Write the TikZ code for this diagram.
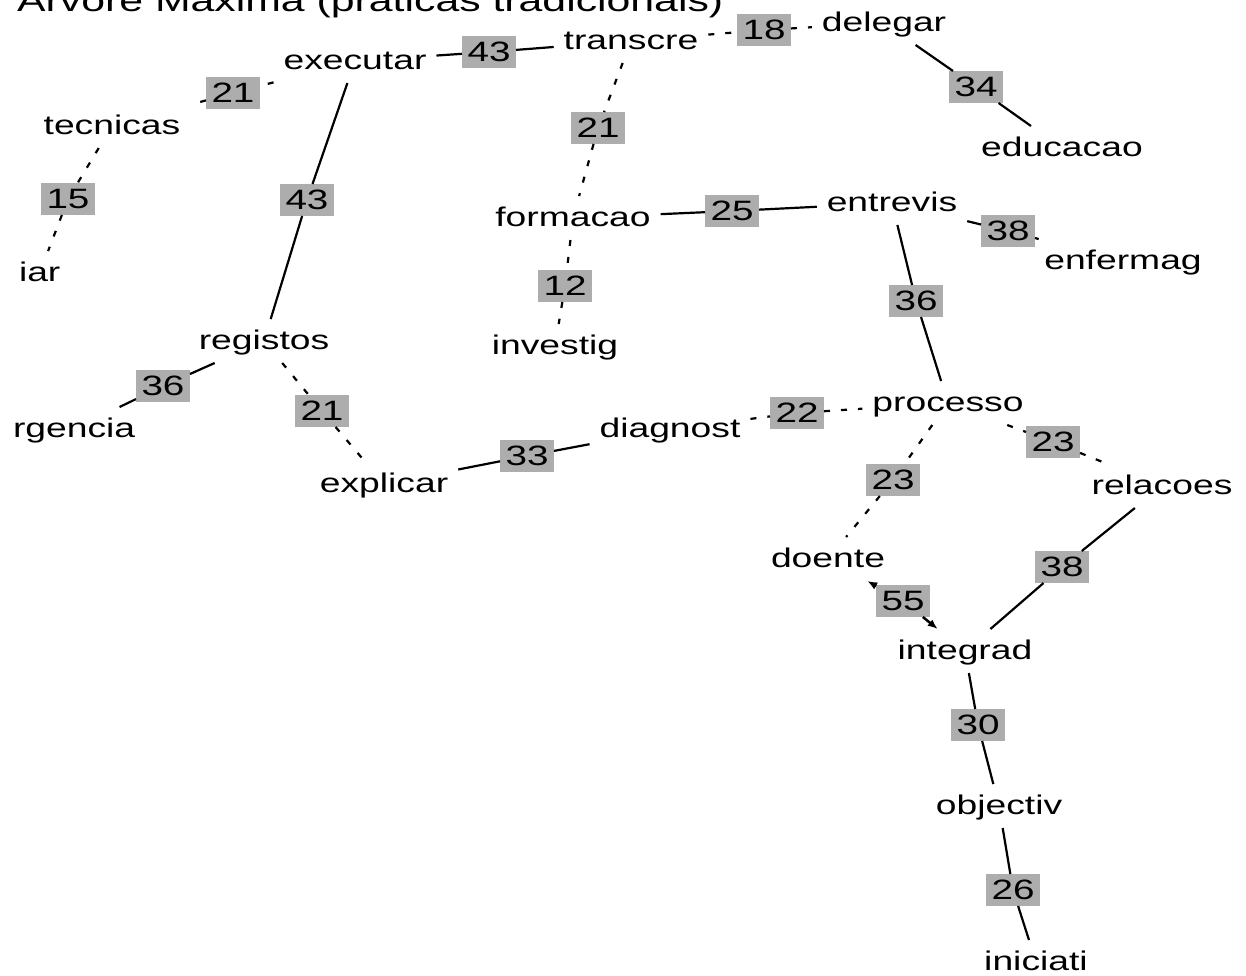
\documentclass[tikz,border=0pt]{standalone}
\usepackage{fontspec}
\setmainfont{Liberation Sans}[FakeStretch=1.38]
\usetikzlibrary{arrows.meta}
\newcommand\wordfont{\fontsize{27}{32}\selectfont}
\newcommand\weightfont{\fontsize{28}{32}\selectfont}
\newcommand\titlefont{\fontsize{31}{36}\selectfont}
\begin{document}
\begin{tikzpicture}[x=1pt,y=-1pt,
  word/.style={font=\wordfont, inner sep=3pt, outer sep=7pt,
    text height=20pt, text depth=4pt, anchor=base},
  weight/.style={fill=black!32, font=\weightfont, minimum width=54pt,
    minimum height=32pt, inner sep=0pt, outer sep=0pt},
  link/.style={line width=2.2pt},
  dlink/.style={line width=2.2pt, dash pattern=on 6pt off 11pt},
  both/.style={line width=2.5pt, -{Latex[length=10pt,width=8pt]}}]
\useasboundingbox (0,0) rectangle (1246,975);
\clip (0,0) rectangle (1246,975);
\fill[white] (0,0) rectangle (1246,975);

% title
\node[anchor=base west, font=\titlefont, inner sep=0pt] (title) at (17,11)
  {Arvore Maxima (praticas tradicionais)};

% terms (placed by baseline)
\node[word] (executar) at (355,69) {executar};
\node[word] (transcre) at (631,49) {transcre};
\node[word] (delegar)  at (884,31) {delegar};
\node[word] (educacao) at (1062,156) {educacao};
\node[word] (tecnicas) at (112,134) {tecnicas};
\node[word, anchor=base west] (iar) at (9,281) {iar};
\node[word] (formacao) at (573,226) {formacao};
\node[word] (entrevis) at (892,211) {entrevis};
\node[word] (enfermag) at (1123,269) {enfermag};
\node[word] (investig) at (555,354) {investig};
\node[word] (registos) at (264,349) {registos};
\node[word, anchor=base west] (urgencia) at (3,437) {rgencia};
\node[word] (explicar) at (384,492) {explicar};
\node[word] (diagnost) at (670,437) {diagnost};
\node[word] (processo) at (948,411) {processo};
\node[word] (relacoes) at (1162,494) {relacoes};
\node[word] (doente)   at (828,567) {doente};
\node[word] (integrad) at (965,659) {integrad};
\node[word] (objectiv) at (999,814) {objectiv};
\node[word] (iniciati) at (1036,970) {iniciati};

% weights
\node[weight] (w1)  at (233,93)  {21};
\node[weight] (w2)  at (489,52)  {43};
\node[weight] (w3)  at (764,30)  {18};
\node[weight] (w4)  at (976,87)  {34};
\node[weight] (w5)  at (68,199)  {15};
\node[weight] (w6)  at (307,200) {43};
\node[weight] (w7)  at (598,128) {21};
\node[weight] (w8)  at (732,211) {25};
\node[weight] (w9)  at (1008,231) {38};
\node[weight] (w10) at (565,286) {12};
\node[weight] (w11) at (916,301) {36};
\node[weight] (w12) at (163,386) {36};
\node[weight] (w13) at (322,411) {21};
\node[weight] (w14) at (527,456) {33};
\node[weight] (w15) at (797,413) {22};
\node[weight] (w16) at (893,480) {23};
\node[weight] (w17) at (1053,442) {23};
\node[weight] (w18) at (1062,567) {38};
\node[weight] (w19) at (903,601) {55};
\node[weight] (w20) at (978,725) {30};
\node[weight] (w21) at (1013,890) {26};

% links
\draw[dlink] (executar) -- (w1);  \draw[dlink] (w1) -- (tecnicas);
\draw[link]  (executar) -- (w2);  \draw[link]  (w2) -- (transcre);
\draw[dlink] (transcre) -- (w3);  \draw[dlink] (w3) -- (delegar);
\draw[link]  (delegar) -- (w4);   \draw[link]  (w4) -- (educacao);
\draw[dlink] (tecnicas) -- (w5);  \draw[dlink] (w5) -- (iar);
\draw[link]  (executar) -- (w6);  \draw[link]  (w6) -- (registos);
\draw[dlink] (transcre) -- (w7);  \draw[dlink] (w7) -- (formacao);
\draw[link]  (formacao) -- (w8);  \draw[link]  (w8) -- (entrevis);
\draw[link]  (entrevis) -- (w9);  \draw[link]  (w9) -- (enfermag);
\draw[dlink] (formacao) -- (w10); \draw[dlink] (w10) -- (investig);
\draw[link]  (entrevis) -- (w11); \draw[link]  (w11) -- (processo);
\draw[link]  (registos) -- (w12); \draw[link]  (w12) -- (urgencia);
\draw[dlink] (registos) -- (w13); \draw[dlink] (w13) -- (explicar);
\draw[link]  (explicar) -- (w14); \draw[link]  (w14) -- (diagnost);
\draw[dlink] (diagnost) -- (w15); \draw[dlink] (w15) -- (processo);
\draw[dlink] (processo) -- (w16); \draw[dlink] (w16) -- (doente);
\draw[dlink] (processo) -- (w17); \draw[dlink] (w17) -- (relacoes);
\draw[link]  (relacoes) -- (w18); \draw[link]  (w18) -- (integrad);
\draw[both]  (w19) -- (doente);   \draw[both]  (w19) -- (integrad);
\draw[link]  (integrad) -- (w20); \draw[link]  (w20) -- (objectiv);
\draw[link]  (objectiv) -- (w21); \draw[link]  (w21) -- (iniciati);
\end{tikzpicture}
\end{document}
